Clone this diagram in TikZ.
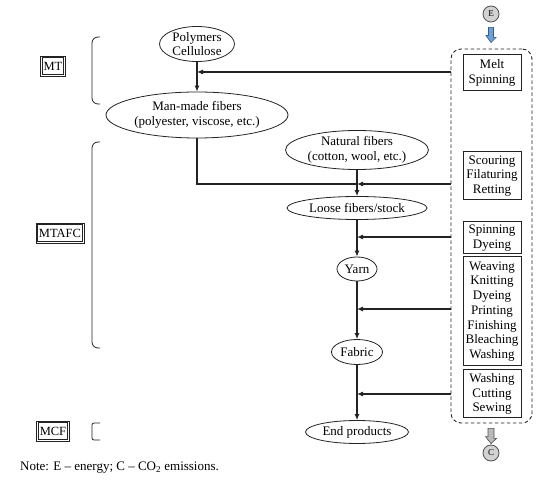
\documentclass[tikz,border=0pt]{standalone}
\usepackage{fontspec}
\setmainfont{Liberation Serif}
\usepackage{tikz}
\usetikzlibrary{shapes.geometric, arrows.meta, calc}
\definecolor{ink}{RGB}{35,35,35}
\definecolor{fluxgray}{RGB}{210,210,210}
\definecolor{fluxedge}{RGB}{80,80,80}
\definecolor{outgray}{RGB}{185,185,185}
\definecolor{inblue}{RGB}{110,160,215}
\definecolor{inedge}{RGB}{50,90,140}
\tikzset{
  oval/.style={ellipse, draw=ink, line width=0.8pt, inner sep=0pt,
    align=center, font=\fontsize{13}{14.5}\selectfont},
  stepbox/.style={rectangle, draw=ink, line width=1pt, inner sep=0pt,
    minimum width=58pt, align=center, font=\fontsize{13}{14.8}\selectfont},
  tagbox/.style={rectangle, draw=ink, line width=0.7pt, inner sep=3pt,
    minimum height=20pt, font=\fontsize{12.5}{14}\selectfont},
  taginner/.style={draw=ink, line width=0.7pt},
  fluxdot/.style={circle, draw=fluxedge, fill=fluxgray, line width=0.8pt,
    minimum size=16pt, inner sep=0pt, font=\fontsize{9}{10}\selectfont},
  arrow/.style={-{Latex[length=6pt,width=5pt]}, line width=1.1pt, color=ink},
  line/.style={line width=1.1pt, color=ink},
  bracket/.style={line width=0.8pt, color=ink, rounded corners=6pt}
}
\begin{document}
\begin{tikzpicture}[x=1pt, y=-1pt]
  \useasboundingbox (0,0) rectangle (550,481);

  % main chain
  \node[oval, minimum width=75pt, minimum height=35pt] (poly) at (197,44) {Polymers\\Cellulose};
  \node[oval, minimum width=182pt, minimum height=46pt] (manmade) at (197,115) {Man-made fibers\\(polyester, viscose, etc.)};
  \node[oval, minimum width=143pt, minimum height=39pt] (natural) at (357,150) {Natural fibers\\(cotton, wool, etc.)};
  \node[oval, minimum width=140pt, minimum height=23pt] (loose) at (357,208) {Loose fibers/stock};
  \node[oval, minimum width=40pt, minimum height=24pt] (yarn) at (357,269) {Yarn};
  \node[oval, minimum width=51pt, minimum height=25pt] (fabric) at (357,352) {Fabric};
  \node[oval, minimum width=103pt, minimum height=23pt] (endprod) at (357,432) {End products};

  % process column
  \node[draw=ink, dashed, dash pattern=on 3.5pt off 2.5pt, line width=0.9pt, rounded corners=10pt,
    minimum width=81pt, minimum height=374pt] (procs) at (491.5,236) {};
  \node[stepbox, minimum height=36pt] (melt) at (492,73) {Melt\\Spinning};
  \node[stepbox, minimum height=48pt] (scour) at (492,176) {Scouring\\Filaturing\\Retting};
  \node[stepbox, minimum height=32pt] (spin) at (492,238) {Spinning\\Dyeing};
  \node[stepbox, minimum height=109pt] (weave) at (492,311.5) {Weaving\\Knitting\\Dyeing\\Printing\\Finishing\\Bleaching\\Washing};
  \node[stepbox, minimum height=48pt] (sew) at (492,394) {Washing\\Cutting\\Sewing};

  % energy in, emissions out
  \node[fluxdot] (E) at (491,14) {E};
  \node[fluxdot] (C) at (491,453) {C};
  \draw[draw=inedge, fill=inblue, line width=0.6pt]
    ($(E.south)+(-2.5,5)$) -- ++(5,0) -- ++(0,10) -- ++(2.5,0) -- ($(procs.north)+(-0.5,-6)$)
    -- ++(-5,-7) -- ++(2.5,0) -- cycle;
  \draw[draw=fluxedge, fill=outgray, line width=0.6pt]
    ($(procs.south)+(-3.5,5)$) -- ++(6,0) -- ++(0,10) -- ++(2.5,0) -- ($(C.north)+(0,-1)$)
    -- ++(-5.5,-7) -- ++(2.5,0) -- cycle;

  % junctions
  \coordinate (j1) at (197,72);
  \coordinate (j2) at (357,184);
  \coordinate (j3) at (357,237);
  \coordinate (j4) at (357,309);
  \coordinate (j5) at (357,394);

  \draw[arrow] (poly) -- (manmade);
  \draw[arrow] (procs.west |- j1) -- (j1);
  \draw[line] (manmade.south) |- (j2);
  \draw[arrow] (procs.west |- j2) -- (j2);
  \draw[arrow] (natural) -- (loose);
  \draw[arrow] (loose) -- (yarn);
  \draw[arrow] (procs.west |- j3) -- (j3);
  \draw[arrow] (yarn) -- (fabric);
  \draw[arrow] (procs.west |- j4) -- (j4);
  \draw[arrow] (fabric) -- (endprod);
  \draw[arrow] (procs.west |- j5) -- (j5);

  % stages on the left
  \node[tagbox] (mt) at (53,66) {MT};
  \node[tagbox] (mtafc) at (60,233) {MTAFC};
  \node[tagbox] (mcf) at (53,431) {MCF};
  \foreach \t in {mt, mtafc, mcf}
    \draw[taginner] ($(\t.north west)+(2,2)$) rectangle ($(\t.south east)+(-2,-2)$);
  \draw[bracket] (100,37) -- (92,37) -- (92,104) -- (100,104);
  \draw[bracket] (100,142) -- (92,142) -- (92,348) -- (100,348);
  \draw[bracket, rounded corners=2pt] (100,423) -- (92,423) -- (92,440) -- (100,440);

  \node[anchor=west, font=\fontsize{13}{14}\selectfont, inner sep=0pt] (note) at (20,468)
    {Note: E -- energy; C -- CO\textsubscript{2} emissions.};
\end{tikzpicture}
\end{document}
